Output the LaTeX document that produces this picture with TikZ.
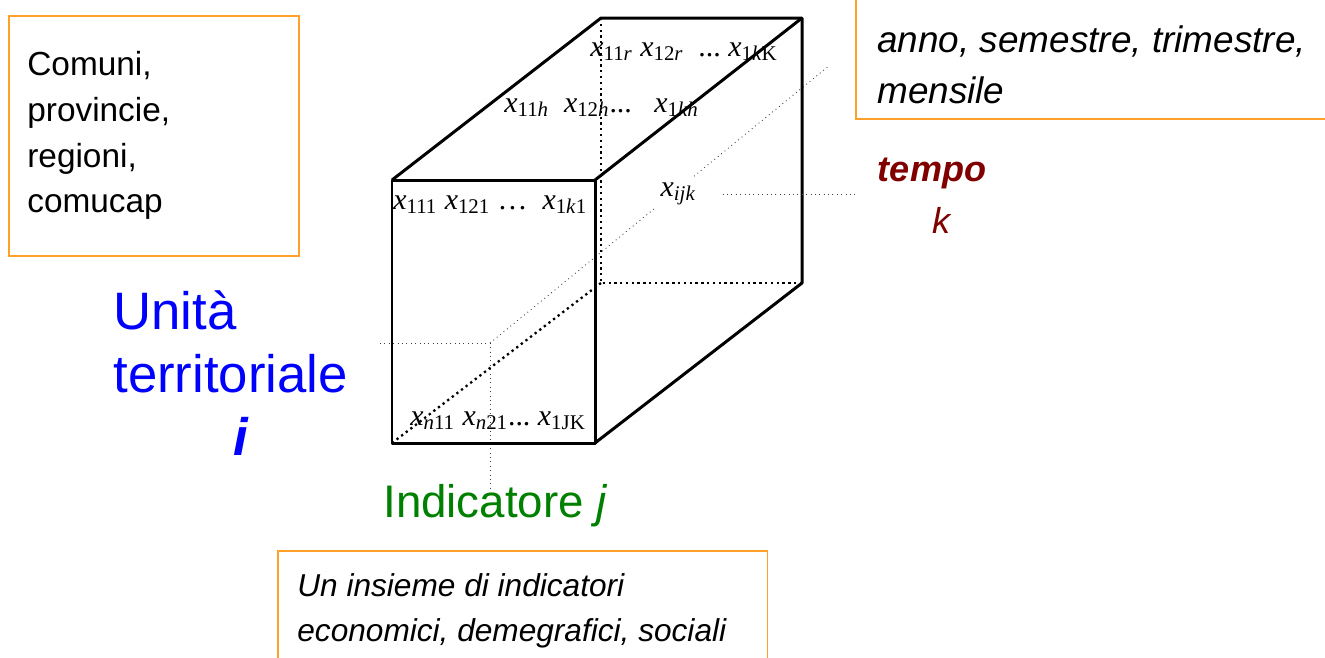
\documentclass[tikz,border=0pt]{standalone}
\usepackage{fontspec}
\setmainfont{Liberation Sans}
\newfontfamily\tms{Liberation Serif}
\usetikzlibrary{positioning}

\definecolor{boxorange}{RGB}{255,160,40}
\definecolor{unitblue}{RGB}{0,0,255}
\definecolor{indgreen}{RGB}{0,128,0}
\definecolor{timered}{RGB}{128,0,0}

\newcommand{\xv}[1]{\textit{x}\textsubscript{#1}}

\begin{document}
\begin{tikzpicture}[
  x=0.02cm, y=-0.02cm,
  frame/.style={draw=boxorange, line width=0.9pt, inner sep=0pt},
  boxtext/.style={align=left, anchor=north west, inner sep=0pt, font=\fontsize{19}{26}\selectfont},
  cell/.style={anchor=base west, inner sep=0pt, font=\tms\fontsize{17}{20}\selectfont},
  edge/.style={line width=1.7pt, line join=round},
  hidden/.style={line width=1.3pt, dotted},
  guide/.style={line width=0.5pt, dotted, black!75},
  axis/.style={align=left, anchor=north west, inner sep=0pt}
]
\useasboundingbox (0,0) rectangle (1325,657);

% orange boxes
\node[frame, anchor=north west, minimum width=5.8cm, minimum height=4.8cm] (areabox) at (8,15) {};
\node[boxtext, text width=5cm, anchor=west] (areatext) at ([xshift=0.38cm]areabox.west)
  {Comuni,\\provincie,\\regioni,\\comucap};

\node[frame, anchor=south west, minimum width=9.8cm, minimum height=3cm] (timebox) at (855,120) {};
\node[boxtext, font=\fontsize{21}{29.5}\selectfont\itshape] (timetext) at (877,25)
  {anno, semestre, trimestre,\\mensile};

\node[frame, anchor=north west, minimum width=9.8cm, minimum height=3cm] (indbox) at (277,550) {};
\node[boxtext, font=\fontsize{18}{25.5}\selectfont\itshape] (indtext) at (297,573)
  {Un insieme di indicatori\\economici, demegrafici, sociali};

% cube corners
\coordinate (f1) at (392,180);
\coordinate (f2) at (595,180);
\coordinate (f3) at (595,443);
\coordinate (f4) at (392,443);
\coordinate (b1) at (601,18);
\coordinate (b2) at (802,18);
\coordinate (b3) at (802,283);
\coordinate (b4) at (601,283);

% guide lines
\coordinate (gc) at (490,343);
\coordinate (gl) at (380,343);
\coordinate (gd) at (490,490);
\coordinate (gu) at (830,65);
\coordinate (tk) at (855,194);
\draw[guide] (gl) -- (gc) -- (gd);
\draw[guide] (gc) -- (gu);

% cube
\draw[hidden] (b1) -- (b4) -- (b3);
\draw[hidden] (f4) -- (b4);
\draw[edge] (f1) -- (f2) -- (f3) -- (f4) -- cycle;
\draw[edge] (f1) -- (b1) -- (b2) -- (b3) -- (f3);
\draw[edge] (f2) -- (b2);

% cells
\node[cell] (rowr) at (590,56) {\xv{11\textit{r}}~\xv{12\textit{r}}~ ...~\xv{1\textit{k}K}};
\node[cell] (rowh) at (504,112) {\xv{11\textit{h}}~~\xv{12\textit{h}}...~~~\xv{1\textit{kh}}};
\node[cell] (row1) at (393,209) {\xv{111}~\xv{121}~…~~\xv{1\textit{k}1}};
\node[cell] (rown) at (410,425) {\xv{\textit{n}11}~\xv{\textit{n}21}...~\xv{1JK}};
\node[cell, fill=white, inner sep=3pt] (ijk) at (655,196) {\xv{\textit{ijk}}};
\draw[guide, shorten <=12pt] (ijk.east |- tk) -- (tk);

% axis labels
\node[axis, text=unitblue, font=\fontsize{30}{36}\selectfont] (unit) at (113,290)
  {Unità\\territoriale\\\hspace*{2.4cm}\textbf{\textit{i}}};
\node[anchor=base west, inner sep=0pt, text=indgreen, font=\fontsize{26}{30}\selectfont] (ind) at (383,517)
  {Indicatore \textit{j}};
\node[align=center, anchor=north, inner sep=0pt, text=timered, font=\fontsize{20.5}{29.5}\selectfont] (tempo) at (932,158)
  {\textbf{\textit{tempo}}\\\hspace*{0.4cm}\textit{k}};

\end{tikzpicture}
\end{document}
